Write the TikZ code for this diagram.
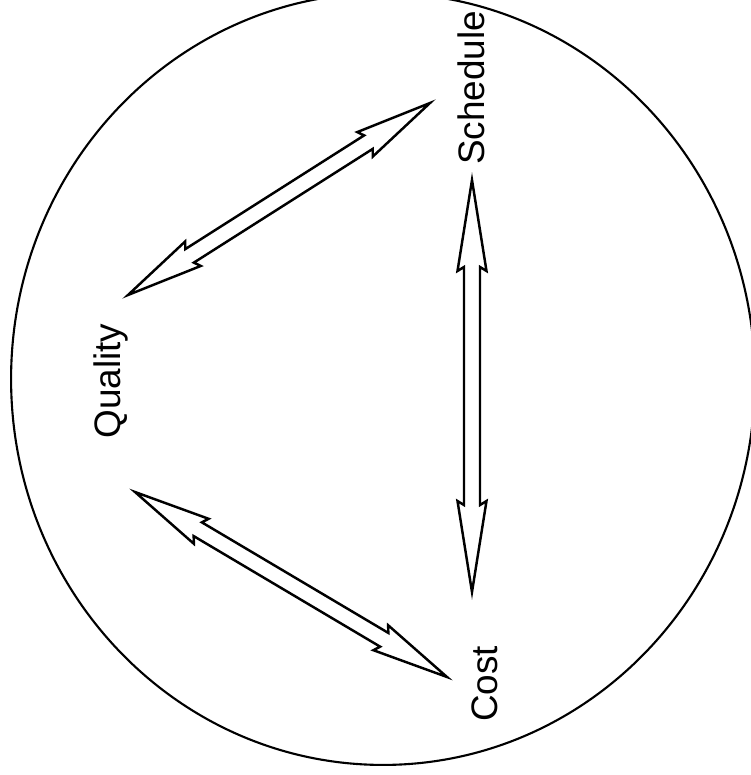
\documentclass[tikz,border=0pt]{standalone}
\usepackage{fontspec}
\setmainfont{Liberation Sans}
\usetikzlibrary{calc}

\tikzset{
  lbl/.style={font=\fontsize{21}{25}\selectfont, inner sep=0pt, rotate=90, anchor=base},
  head len/.store in=\headlen, head len=1.46cm,
  head back/.store in=\headback, head back=1.54cm,
  fatarrow/.style={draw, line width=1.4pt, line join=miter,
    to path={
      -- ($(\tikztostart)!\headback!(\tikztotarget)!0.29cm!90:(\tikztotarget)$)
      -- ($(\tikztostart)!\headlen!(\tikztotarget)!0.16cm!90:(\tikztotarget)$)
      -- ($(\tikztotarget)!\headlen!(\tikztostart)!0.16cm!-90:(\tikztostart)$)
      -- ($(\tikztotarget)!\headback!(\tikztostart)!0.29cm!-90:(\tikztostart)$)
      -- (\tikztotarget)
      -- ($(\tikztotarget)!\headback!(\tikztostart)!0.29cm!90:(\tikztostart)$)
      -- ($(\tikztotarget)!\headlen!(\tikztostart)!0.16cm!90:(\tikztostart)$)
      -- ($(\tikztostart)!\headlen!(\tikztotarget)!0.16cm!-90:(\tikztotarget)$)
      -- ($(\tikztostart)!\headback!(\tikztotarget)!0.29cm!-90:(\tikztotarget)$)
      -- cycle}}
}

\begin{document}
\begin{tikzpicture}[x=0.02cm,y=-0.02cm]
\useasboundingbox (0,0) rectangle (751,775);
% outer circle
\draw[line width=1.2pt] (383,379) ellipse [x radius=7.44cm, y radius=7.72cm];

% labels
\node[lbl] (schedule) at (484,88) {Schedule};
\node[lbl] (quality) at (120,381) {Quality};
\node[lbl] (cost) at (497,684) {Cost};

% arrow ends
\coordinate (qs1) at (128,295); \coordinate (qs2) at (430,103);
\coordinate (sc1) at (472,180); \coordinate (sc2) at (472,592);
\coordinate (qc1) at (135,492); \coordinate (qc2) at (447,677);

% double arrows
\draw[fatarrow] (qs1) to (qs2);
\draw[fatarrow, head len=1.74cm, head back=1.82cm] (sc1) to (sc2);
\draw[fatarrow] (qc1) to (qc2);
\end{tikzpicture}
\end{document}
